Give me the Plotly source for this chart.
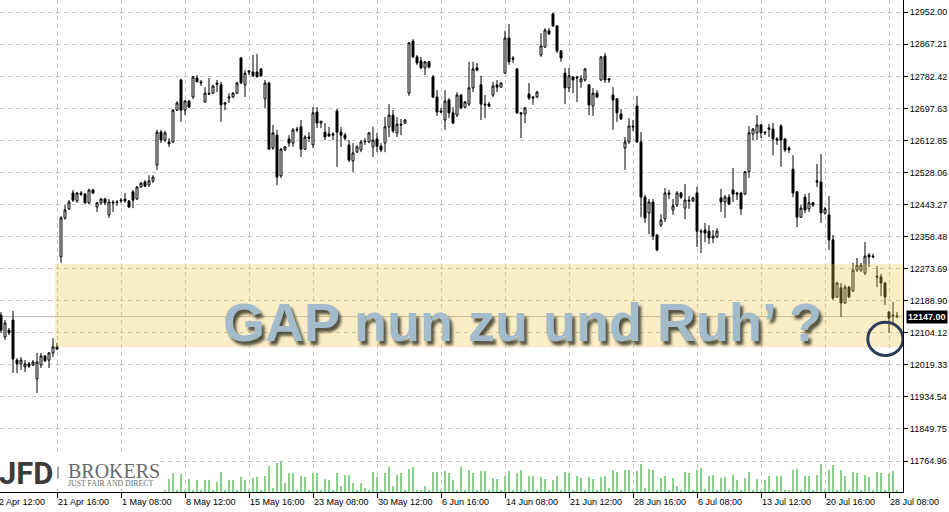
import plotly.graph_objects as go

# ---------------- data ----------------
bar_index = list(range(225))

open_ = [12151, 12093, 12111, 12138, 12032, 12022, 12014, 12022, 12019, 11982,
         12019, 12043, 12032, 12051, 12067, 12305, 12408, 12432, 12474, 12453,
         12474, 12471, 12448, 12482, 12437, 12448, 12458, 12416, 12450, 12448,
         12453, 12458, 12453, 12477, 12458, 12490, 12503, 12495, 12506, 12548,
         12635, 12614, 12609, 12609, 12693, 12773, 12693, 12717, 12728, 12778,
         12768, 12715, 12738, 12738, 12765, 12760, 12709, 12725, 12728, 12738,
         12831, 12760, 12797, 12794, 12794, 12802, 12723, 12765, 12593, 12627,
         12519, 12588, 12617, 12606, 12643, 12649, 12590, 12622, 12601, 12688,
         12659, 12635, 12630, 12627, 12691, 12635, 12627, 12601, 12559, 12582,
         12588, 12609, 12609, 12596, 12617, 12598, 12606, 12649, 12680, 12633,
         12656, 12659, 12738, 12876, 12834, 12823, 12805, 12821, 12781, 12728,
         12691, 12667, 12720, 12686, 12680, 12733, 12701, 12709, 12752, 12805,
         12760, 12709, 12709, 12733, 12760, 12754, 12791, 12884, 12831, 12802,
         12686, 12683, 12736, 12728, 12728, 12839, 12860, 12903, 12948, 12916,
         12850, 12791, 12752, 12781, 12781, 12768, 12773, 12760, 12704, 12738,
         12773, 12836, 12776, 12733, 12723, 12683, 12593, 12609, 12651, 12704,
         12609, 12463, 12421, 12450, 12363, 12389, 12405, 12474, 12429, 12442,
         12474, 12434, 12455, 12453, 12474, 12373, 12376, 12373, 12355, 12358,
         12461, 12450, 12463, 12482, 12474, 12474, 12471, 12530, 12630, 12633,
         12654, 12635, 12646, 12643, 12617, 12651, 12617, 12593, 12537, 12477,
         12410, 12463, 12432, 12448, 12506, 12503, 12421, 12416, 12350, 12199,
         12223, 12183, 12225, 12215, 12270, 12270, 12262, 12310, 12307, 12254,
         12252, 12236, 12159, 12151, 12149]

high = [12159, 12138, 12117, 12162, 12037, 12040, 12032, 12027, 12032, 12051,
        12051, 12045, 12053, 12090, 12077, 12413, 12442, 12455, 12482, 12477,
        12479, 12474, 12485, 12485, 12450, 12461, 12461, 12458, 12455, 12455,
        12461, 12474, 12455, 12482, 12492, 12503, 12508, 12521, 12521, 12641,
        12641, 12638, 12619, 12696, 12717, 12776, 12720, 12720, 12783, 12786,
        12773, 12754, 12778, 12760, 12773, 12768, 12715, 12738, 12741, 12768,
        12834, 12799, 12799, 12839, 12842, 12805, 12773, 12768, 12654, 12641,
        12593, 12598, 12627, 12646, 12649, 12667, 12627, 12635, 12701, 12701,
        12664, 12659, 12649, 12635, 12696, 12649, 12633, 12614, 12606, 12601,
        12614, 12619, 12635, 12649, 12633, 12606, 12675, 12709, 12694, 12675,
        12670, 12670, 12873, 12881, 12839, 12834, 12823, 12823, 12786, 12746,
        12699, 12746, 12725, 12701, 12741, 12736, 12717, 12821, 12821, 12818,
        12784, 12733, 12715, 12768, 12773, 12767, 12903, 12921, 12836, 12805,
        12688, 12701, 12765, 12731, 12744, 12897, 12910, 12910, 12950, 12918,
        12852, 12805, 12805, 12783, 12783, 12786, 12805, 12762, 12752, 12746,
        12836, 12844, 12778, 12754, 12725, 12696, 12622, 12672, 12667, 12731,
        12635, 12469, 12458, 12458, 12365, 12418, 12487, 12482, 12458, 12479,
        12477, 12498, 12466, 12463, 12490, 12379, 12395, 12389, 12376, 12381,
        12485, 12469, 12471, 12540, 12477, 12477, 12532, 12651, 12646, 12680,
        12656, 12638, 12656, 12659, 12622, 12656, 12619, 12598, 12574, 12479,
        12442, 12471, 12474, 12450, 12551, 12577, 12437, 12466, 12363, 12239,
        12236, 12231, 12228, 12289, 12302, 12289, 12344, 12315, 12313, 12281,
        12260, 12239, 12162, 12186, 12159]

low = [12104, 12085, 12098, 11998, 11998, 12006, 12000, 12011, 12016, 11945,
       12011, 12027, 12011, 12040, 12059, 12289, 12403, 12429, 12450, 12448,
       12466, 12445, 12445, 12471, 12424, 12442, 12442, 12408, 12424, 12440,
       12448, 12448, 12434, 12434, 12455, 12487, 12490, 12490, 12500, 12535,
       12606, 12609, 12596, 12606, 12691, 12662, 12680, 12699, 12723, 12768,
       12757, 12712, 12733, 12736, 12741, 12662, 12693, 12712, 12725, 12736,
       12762, 12728, 12786, 12781, 12781, 12781, 12699, 12588, 12588, 12495,
       12514, 12585, 12596, 12596, 12635, 12569, 12588, 12609, 12593, 12646,
       12646, 12614, 12622, 12614, 12543, 12596, 12614, 12556, 12530, 12580,
       12582, 12601, 12606, 12569, 12582, 12582, 12582, 12622, 12633, 12622,
       12627, 12656, 12731, 12831, 12813, 12802, 12786, 12804, 12725, 12678,
       12686, 12641, 12672, 12656, 12675, 12696, 12699, 12704, 12741, 12796,
       12667, 12672, 12701, 12728, 12741, 12752, 12789, 12813, 12818, 12683,
       12619, 12659, 12720, 12707, 12725, 12834, 12858, 12892, 12913, 12844,
       12821, 12709, 12741, 12738, 12715, 12752, 12768, 12680, 12678, 12725,
       12770, 12765, 12765, 12641, 12662, 12667, 12535, 12604, 12638, 12606,
       12410, 12395, 12365, 12350, 12320, 12384, 12397, 12458, 12416, 12437,
       12458, 12405, 12432, 12450, 12331, 12315, 12344, 12339, 12342, 12355,
       12424, 12408, 12442, 12450, 12455, 12416, 12469, 12514, 12614, 12614,
       12619, 12627, 12622, 12574, 12601, 12543, 12582, 12580, 12463, 12384,
       12408, 12421, 12424, 12437, 12490, 12395, 12416, 12323, 12191, 12196,
       12146, 12180, 12196, 12212, 12265, 12265, 12257, 12278, 12302, 12225,
       12201, 12178, 12104, 12125, 12143]

close = [12111, 12130, 12104, 12035, 12022, 12032, 12022, 12016, 12027, 12027,
         12043, 12030, 12051, 12067, 12061, 12408, 12429, 12450, 12455, 12474,
         12471, 12448, 12482, 12474, 12448, 12458, 12448, 12450, 12448, 12450,
         12455, 12453, 12437, 12455, 12490, 12500, 12492, 12506, 12516, 12635,
         12614, 12633, 12604, 12693, 12712, 12693, 12717, 12701, 12781, 12768,
         12765, 12738, 12736, 12757, 12762, 12707, 12712, 12728, 12738, 12765,
         12765, 12791, 12794, 12784, 12781, 12784, 12765, 12590, 12633, 12516,
         12590, 12596, 12606, 12641, 12641, 12590, 12622, 12619, 12686, 12659,
         12664, 12622, 12625, 12630, 12635, 12627, 12619, 12561, 12580, 12596,
         12609, 12611, 12633, 12614, 12598, 12588, 12649, 12680, 12638, 12656,
         12654, 12667, 12871, 12834, 12818, 12805, 12821, 12807, 12728, 12688,
         12688, 12717, 12686, 12659, 12733, 12699, 12715, 12752, 12802, 12799,
         12709, 12707, 12704, 12757, 12754, 12765, 12884, 12821, 12828, 12686,
         12683, 12699, 12725, 12725, 12741, 12863, 12905, 12895, 12916, 12850,
         12831, 12752, 12784, 12773, 12778, 12776, 12802, 12707, 12738, 12728,
         12834, 12773, 12773, 12720, 12686, 12670, 12609, 12651, 12649, 12609,
         12463, 12408, 12450, 12360, 12323, 12402, 12474, 12471, 12440, 12474,
         12463, 12455, 12453, 12461, 12373, 12371, 12368, 12355, 12360, 12373,
         12450, 12463, 12445, 12471, 12471, 12432, 12530, 12633, 12643, 12654,
         12633, 12633, 12643, 12617, 12614, 12614, 12588, 12588, 12474, 12410,
         12434, 12429, 12448, 12442, 12503, 12421, 12432, 12350, 12196, 12236,
         12183, 12225, 12199, 12270, 12283, 12283, 12307, 12305, 12305, 12252,
         12236, 12199, 12143, 12149, 12147]

# tick volume (first 41 bars hidden behind the logo)
volume = [None] * 41 + [
    200, 1300, 1900, 200, 1800, 200, 1300, 200, 1200, 200,
    1200, 1200, 200, 1000, 2000, 200, 1200, 1200, 200, 1500,
    1200, 200, 1400, 1500, 200, 1600, 2600, 400, 2900, 3100,
    900, 1900, 1900, 200, 1600, 1500, 200, 1900, 1900, 200,
    1300, 1200, 200, 1900, 600, 1700, 1700, 900, 200, 900,
    400, 200, 2000, 1500, 200, 1900, 2500, 600, 1700, 1900,
    200, 2300, 2500, 200, 200, 600, 200, 2000, 2000, 200,
    2100, 1900, 1200, 200, 2500, 200, 2200, 1900, 200, 2100,
    2100, 200, 1400, 1300, 200, 1600, 2100, 200, 1900, 2200,
    200, 1600, 1600, 200, 1500, 1300, 200, 1200, 1600, 200,
    2000, 1900, 200, 1600, 1400, 200, 1500, 1300, 200, 1500,
    1600, 400, 2200, 2000, 200, 2200, 2200, 200, 2100, 2800,
    400, 2300, 2200, 200, 1400, 1600, 200, 1400, 600, 200,
    2000, 1900, 200, 2200, 2400, 300, 1600, 1700, 200, 1400,
    1500, 200, 1700, 1200, 200, 1400, 2000, 200, 1300, 200,
    1200, 1600, 200, 1600, 1600, 200, 200, 2200, 2300, 200,
    1600, 1600, 200, 1700, 2800, 200, 2200, 2700, 200, 2200,
    1600, 200, 2000, 1900, 200, 1700, 1500, 200, 2000, 1900,
    200, 1800, 2100, 200]

tick_index = [-2, 14, 30, 46, 62, 78, 94, 110, 126, 142, 158, 174, 190, 206, 222]
tick_labels = ["12 Apr 12:00", "21 Apr 16:00", "1 May 08:00", "8 May 12:00",
               "15 May 16:00", "23 May 08:00", "30 May 12:00", "6 Jun 16:00",
               "14 Jun 08:00", "21 Jun 12:00", "28 Jun 16:00", "6 Jul 08:00",
               "13 Jul 12:00", "20 Jul 16:00", "28 Jul 08:00"]

price_ticks = [12952.00, 12867.21, 12782.42, 12697.63, 12612.85, 12528.06,
               12443.27, 12358.48, 12273.69, 12188.90, 12104.12, 12019.33,
               11934.54, 11849.75, 11764.96]

last_price = 12147.00
gap_low, gap_high = 12066, 12286
gap_start_index = 13.5
circle_center_index, circle_center_price = 221.1, 12088

# ---------------- figure ----------------
X_MIN, X_MAX = -0.25, 225.5
Y_MIN, Y_MAX = 11683.0, 12984.5
GRID = "#c4c4c4"
FONT = "Liberation Sans"


def to_paper(idx):
    return (idx - X_MIN) / (X_MAX - X_MIN)


fig = go.Figure()

fig.add_trace(go.Bar(
    x=bar_index, y=volume, yaxis="y2", width=0.28,
    marker=dict(color="#8ad28a", line=dict(width=0)),
    hoverinfo="skip", showlegend=False))

fig.add_trace(go.Candlestick(
    x=bar_index, open=open_, high=high, low=low, close=close,
    increasing=dict(line=dict(color="black", width=1), fillcolor="white"),
    decreasing=dict(line=dict(color="black", width=1), fillcolor="black"),
    whiskerwidth=0, hoverinfo="skip", showlegend=False))

shapes = [
    # bid line
    dict(type="line", xref="paper", x0=0, x1=1, yref="y", y0=last_price, y1=last_price,
         line=dict(color="#b8b8b8", width=1), layer="between"),
    # gap zone
    dict(type="rect", xref="x", x0=gap_start_index, x1=X_MAX, yref="y", y0=gap_low, y1=gap_high,
         fillcolor="rgba(241,195,65,0.30)", line=dict(width=0), layer="above"),
    # circle
    dict(type="circle", xref="x", yref="y",
         x0=circle_center_index - 4.4, x1=circle_center_index + 4.4,
         y0=circle_center_price - 44, y1=circle_center_price + 44,
         line=dict(color="#2c3d5a", width=3), layer="above"),
    # logo background
    dict(type="rect", xref="paper", yref="paper", x0=0, x1=160 / 903, y0=0.006, y1=0.073,
         fillcolor="white", line=dict(width=0), layer="above"),
    dict(type="line", xref="paper", yref="paper", x0=58 / 903, x1=58 / 903, y0=0.027, y1=0.052,
         line=dict(color="#8a8a8a", width=1.5), layer="above"),
]

annotations = []
for t, lab in zip(tick_index, tick_labels):
    annotations.append(dict(
        text=lab, xref="paper", yref="paper", x=to_paper(t), y=0,
        xanchor="left", yanchor="top", xshift=-1, yshift=-3, showarrow=False,
        font=dict(family=FONT, size=9, color="black")))

annotations += [
    dict(text="<b>GAP nun zu und Ruh’ ?</b>", xref="paper", yref="paper",
         x=522.5 / 903, y=1 - 322 / 492, xanchor="center", yanchor="middle", showarrow=False,
         font=dict(family=FONT, size=54, color="#a3bccb",
                   shadow="3px 4px 3px rgba(55,55,40,0.85)")),
    dict(text="<b>%.2f</b>" % last_price, xref="paper", yref="y", x=1, y=last_price,
         xanchor="left", yanchor="middle", xshift=3, showarrow=False, bgcolor="black",
         borderpad=1, font=dict(family=FONT, size=9, color="white")),
    dict(text="<b>JFD</b>", xref="paper", yref="paper", x=0, y=1 - 473 / 492,
         xanchor="left", yanchor="middle", xshift=-3, showarrow=False,
         font=dict(family="Roboto", size=31, color="#3c3c3c")),
    dict(text="BROKERS", xref="paper", yref="paper", x=66 / 903, y=1 - 471 / 492,
         xanchor="left", yanchor="middle", showarrow=False,
         font=dict(family="Liberation Serif", size=20, color="#6a6a6a")),
    dict(text="JUST FAIR AND DIRECT", xref="paper", yref="paper", x=66 / 903, y=1 - 483.5 / 492,
         xanchor="left", yanchor="middle", showarrow=False,
         font=dict(family="Liberation Serif", size=7.8, color="#6a6a6a")),
]

fig.update_layout(
    width=949, height=512,
    margin=dict(l=0, r=46, t=0, b=20),
    paper_bgcolor="white", plot_bgcolor="white",
    showlegend=False, hovermode=False,
    xaxis=dict(range=[X_MIN, X_MAX], tickvals=tick_index[1:], showticklabels=False,
               ticks="outside", ticklen=5, tickcolor="black", tickwidth=1,
               showgrid=True, gridcolor=GRID, griddash="4px,4px", gridwidth=1,
               showline=True, linecolor="black", linewidth=1, zeroline=False,
               rangeslider=dict(visible=False), fixedrange=True),
    yaxis=dict(range=[Y_MIN, Y_MAX], side="right", tickvals=price_ticks,
               ticktext=["%.2f" % v for v in price_ticks],
               ticks="outside", ticklen=4, tickcolor="black", tickwidth=1,
               tickfont=dict(family=FONT, size=9, color="black"),
               showgrid=True, gridcolor=GRID, griddash="4px,4px", gridwidth=1,
               showline=True, linecolor="black", linewidth=1, zeroline=False,
               automargin=False, fixedrange=True),
    yaxis2=dict(overlaying="y", range=[0, 49200], visible=False, fixedrange=True),
    shapes=shapes, annotations=annotations,
)

fig.write_html("out.html", config={"displayModeBar": False},
               post_script="document.body.style.margin='0';document.body.style.overflow='hidden';")
